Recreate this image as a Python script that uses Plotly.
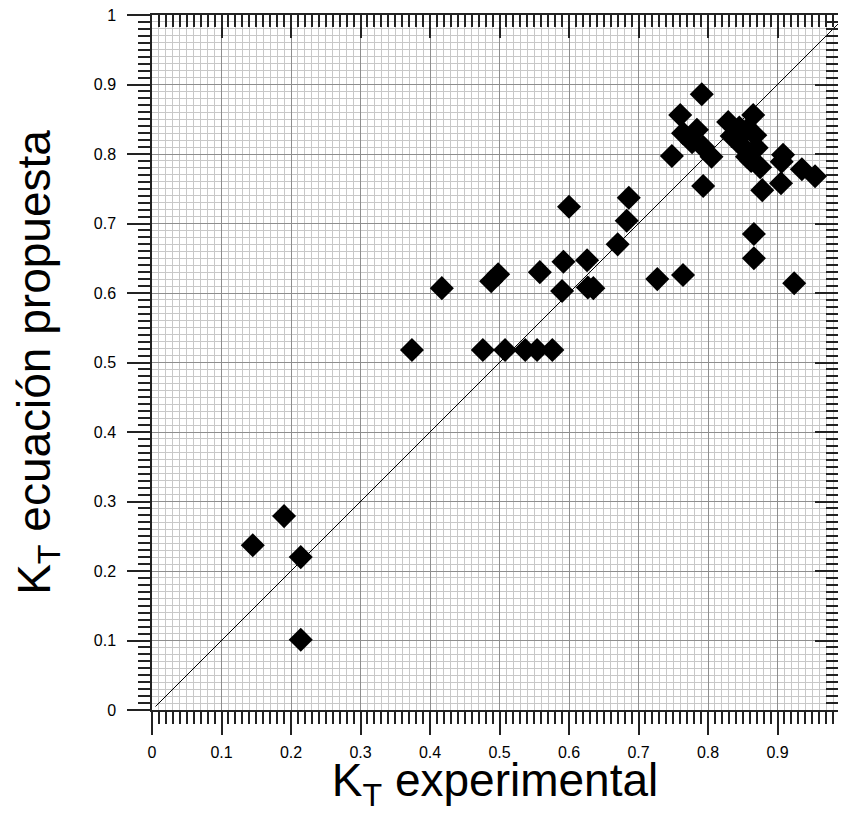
import plotly.graph_objects as go

# Measured vs. proposed-equation clearness index values
kt_experimental = [
    0.145, 0.190, 0.214, 0.214, 0.374, 0.417, 0.476, 0.508, 0.537, 0.554,
    0.576, 0.488, 0.498, 0.558, 0.592, 0.626, 0.590, 0.627, 0.635, 0.670,
    0.683, 0.686, 0.600, 0.727, 0.764, 0.748, 0.760, 0.764, 0.777, 0.784,
    0.791, 0.793, 0.805, 0.793, 0.829, 0.834, 0.845, 0.850, 0.856, 0.856,
    0.865, 0.868, 0.870, 0.862, 0.875, 0.878, 0.905, 0.906, 0.908, 0.935,
    0.954, 0.866, 0.866, 0.924,
]
kt_propuesta = [
    0.237, 0.279, 0.220, 0.101, 0.518, 0.607, 0.518, 0.518, 0.518, 0.518,
    0.518, 0.617, 0.627, 0.630, 0.645, 0.647, 0.603, 0.608, 0.607, 0.670,
    0.704, 0.737, 0.724, 0.620, 0.626, 0.797, 0.856, 0.830, 0.817, 0.835,
    0.886, 0.810, 0.796, 0.754, 0.846, 0.826, 0.838, 0.810, 0.835, 0.796,
    0.856, 0.827, 0.809, 0.790, 0.781, 0.748, 0.758, 0.789, 0.799, 0.778,
    0.768, 0.685, 0.650, 0.614,
]

# 1:1 reference line
line_x = [0.005, 1.0]
line_y = [0.005, 1.0]

tick_vals = [i / 10 for i in range(11)]
tick_text = ["0", "0.1", "0.2", "0.3", "0.4", "0.5", "0.6", "0.7", "0.8", "0.9", "1"]

font_family = "Liberation Sans, Arial, sans-serif"

fig = go.Figure()

fig.add_trace(
    go.Scatter(
        x=line_x,
        y=line_y,
        mode="lines",
        line=dict(color="black", width=1),
        showlegend=False,
        hoverinfo="skip",
    )
)

fig.add_trace(
    go.Scatter(
        x=kt_experimental,
        y=kt_propuesta,
        mode="markers",
        marker=dict(symbol="diamond", size=18.5, color="black", line=dict(width=0)),
        showlegend=False,
    )
)

# invisible trace so the mirrored top/right axes get drawn
fig.add_trace(
    go.Scatter(
        x=[0.5],
        y=[0.5],
        xaxis="x2",
        yaxis="y2",
        mode="markers",
        marker=dict(opacity=0),
        showlegend=False,
        hoverinfo="skip",
    )
)

common = dict(
    tickvals=tick_vals,
    ticktext=tick_text,
    showline=True,
    linecolor="#222222",
    linewidth=1.5,
    tickcolor="#222222",
    tickwidth=1.5,
    ticklen=23,
    zeroline=False,
    ticklabeloverflow="allow",
    tickfont=dict(family=font_family, size=16, color="black"),
)

minor_out = dict(
    dtick=0.01,
    ticks="outside",
    ticklen=12,
    tickwidth=1.5,
    tickcolor="#222222",
    showgrid=True,
    gridcolor="#c8c8c8",
    gridwidth=1,
)
minor_in = dict(dtick=0.01, ticks="inside", ticklen=12, tickwidth=1.5, tickcolor="#222222")

# the original frame runs just past the right edge of the picture
x_range = [0, 0.987]
y_range = [0, 1]

# page body has an 8px margin, so the figure is sized/offset to fit the window
fig.update_layout(
    width=830,
    height=805,
    margin=dict(l=144, r=0, t=7, b=103, pad=0),
    paper_bgcolor="white",
    plot_bgcolor="white",
    font=dict(family=font_family, color="black"),
    xaxis=dict(
        **common,
        range=x_range,
        ticks="outside",
        showgrid=True,
        gridcolor="#8e8e8e",
        gridwidth=1,
        ticklabelstandoff=4,
        minor=minor_out,
        title=dict(
            text="K<sub>T</sub> experimental",
            font=dict(family=font_family, size=46, color="black"),
            standoff=12,
        ),
    ),
    yaxis=dict(
        **common,
        range=y_range,
        ticks="outside",
        showgrid=True,
        gridcolor="#8e8e8e",
        gridwidth=1,
        ticklabelstandoff=8,
        minor=minor_out,
        title=dict(
            text="K<sub>T</sub> ecuación propuesta",
            font=dict(family=font_family, size=46, color="black"),
            standoff=36,
        ),
    ),
    xaxis2=dict(
        **common,
        range=x_range,
        overlaying="x",
        side="top",
        ticks="inside",
        showticklabels=False,
        showgrid=False,
        minor=minor_in,
    ),
    yaxis2=dict(
        **common,
        range=y_range,
        overlaying="y",
        side="right",
        ticks="inside",
        showticklabels=False,
        showgrid=False,
        minor=minor_in,
    ),
)

fig.write_html("out.html")
